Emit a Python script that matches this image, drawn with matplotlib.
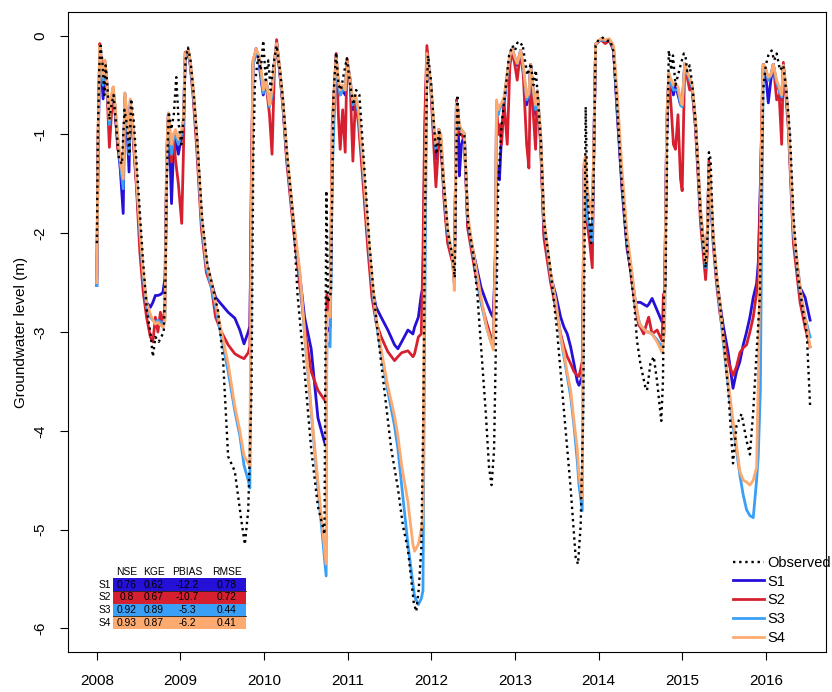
import matplotlib
matplotlib.use("Agg")
import matplotlib.pyplot as plt
from matplotlib.patches import Rectangle
from matplotlib.lines import Line2D

plt.rcParams['font.family'] = ['Liberation Sans', 'DejaVu Sans']

# ---------------- data ----------------
t_sim = [
    2008.000, 2008.015, 2008.035, 2008.055, 2008.075, 2008.095, 2008.115, 2008.150, 2008.175, 2008.195,
    2008.215, 2008.250, 2008.280, 2008.315, 2008.335, 2008.360, 2008.385, 2008.400, 2008.430, 2008.475,
    2008.515, 2008.555, 2008.595, 2008.640, 2008.670, 2008.700, 2008.730, 2008.760, 2008.790, 2008.815,
    2008.835, 2008.855, 2008.875, 2008.893, 2008.915, 2008.940, 2008.975, 2009.015, 2009.035, 2009.056,
    2009.095, 2009.115, 2009.150, 2009.195, 2009.250, 2009.310, 2009.370, 2009.420, 2009.490, 2009.570,
    2009.650, 2009.710, 2009.760, 2009.810, 2009.830, 2009.848, 2009.868, 2009.905, 2009.935, 2009.965,
    2009.990, 2010.025, 2010.065, 2010.095, 2010.125, 2010.150, 2010.185, 2010.225, 2010.270, 2010.350,
    2010.430, 2010.484, 2010.563, 2010.644, 2010.724, 2010.742, 2010.750, 2010.790, 2010.815, 2010.862,
    2010.890, 2010.910, 2010.940, 2010.970, 2010.992, 2011.030, 2011.062, 2011.092, 2011.130, 2011.180,
    2011.240, 2011.290, 2011.340, 2011.400, 2011.480, 2011.560, 2011.600, 2011.645, 2011.720, 2011.780,
    2011.800, 2011.845, 2011.880, 2011.900, 2011.920, 2011.947, 2011.995, 2012.035, 2012.055, 2012.090,
    2012.115, 2012.155, 2012.195, 2012.255, 2012.275, 2012.300, 2012.320, 2012.335, 2012.360, 2012.395,
    2012.435, 2012.475, 2012.515, 2012.595, 2012.660, 2012.713, 2012.740, 2012.765, 2012.780, 2012.800,
    2012.815, 2012.840, 2012.870, 2012.908, 2012.940, 2012.967, 2013.000, 2013.027, 2013.068, 2013.100,
    2013.140, 2013.167, 2013.188, 2013.220, 2013.247, 2013.267, 2013.307, 2013.347, 2013.427, 2013.487,
    2013.547, 2013.586, 2013.626, 2013.666, 2013.706, 2013.745, 2013.766, 2013.805, 2013.815, 2013.828,
    2013.845, 2013.865, 2013.895, 2013.925, 2013.945, 2013.965, 2014.025, 2014.080, 2014.130, 2014.180,
    2014.220, 2014.280, 2014.340, 2014.400, 2014.440, 2014.480, 2014.500, 2014.540, 2014.580, 2014.600,
    2014.640, 2014.700, 2014.760, 2014.775, 2014.790, 2014.815, 2014.840, 2014.870, 2014.895, 2014.920,
    2014.950, 2014.980, 2015.000, 2015.030, 2015.060, 2015.090, 2015.120, 2015.160, 2015.220, 2015.280,
    2015.300, 2015.320, 2015.340, 2015.370, 2015.410, 2015.450, 2015.490, 2015.550, 2015.608, 2015.650,
    2015.690, 2015.730, 2015.770, 2015.810, 2015.850, 2015.890, 2015.910, 2015.935, 2015.955, 2015.970,
    2016.000, 2016.030, 2016.060, 2016.090, 2016.130, 2016.160, 2016.190, 2016.210, 2016.240, 2016.270,
    2016.330, 2016.410, 2016.470, 2016.530,
]

s1 = [
    -2.53, -1.20, -0.15, -0.40, -0.64, -0.30, -0.45, -0.90, -0.65, -0.55,
    -0.75, -1.10, -1.35, -1.80, -0.60, -0.90, -1.38, -0.70, -0.95, -1.50,
    -2.05, -2.45, -2.70, -2.75, -2.70, -2.63, -2.63, -2.62, -2.60, -2.45,
    -1.40, -0.82, -1.20, -1.70, -1.20, -1.05, -1.20, -1.00, -0.85, -0.25,
    -0.17, -0.28, -0.55, -1.05, -1.85, -2.30, -2.50, -2.65, -2.72, -2.80,
    -2.86, -2.98, -3.12, -3.00, -2.94, -1.60, -0.30, -0.13, -0.25, -0.45,
    -0.60, -0.46, -0.70, -0.60, -0.25, -0.08, -0.35, -0.70, -1.22, -1.90,
    -2.45, -2.85, -3.17, -3.87, -4.12, -4.15, -3.00, -2.95, -1.20, -0.20,
    -0.55, -0.60, -0.55, -0.60, -0.25, -0.45, -0.75, -0.62, -0.80, -1.35,
    -2.05, -2.55, -2.75, -2.85, -2.98, -3.13, -3.17, -3.10, -2.98, -3.02,
    -2.95, -2.85, -2.62, -2.55, -1.20, -0.20, -0.52, -1.06, -1.25, -0.95,
    -1.06, -1.65, -2.05, -2.24, -2.45, -0.70, -0.80, -1.42, -1.10, -1.00,
    -1.92, -2.08, -2.24, -2.55, -2.70, -2.81, -2.85, -2.30, -1.30, -1.40,
    -1.46, -1.00, -0.68, -0.40, -0.20, -0.13, -0.25, -0.30, -0.15, -0.35,
    -0.70, -0.60, -0.29, -0.60, -0.80, -0.56, -1.06, -2.00, -2.43, -2.62,
    -2.85, -2.95, -3.02, -3.15, -3.32, -3.50, -3.54, -3.45, -2.50, -1.35,
    -1.50, -1.88, -1.95, -1.95, -1.00, -0.09, -0.04, -0.06, -0.04, -0.15,
    -0.75, -1.55, -2.15, -2.45, -2.70, -2.70, -2.70, -2.72, -2.74, -2.72,
    -2.66, -2.78, -2.90, -2.85, -2.60, -1.00, -0.40, -0.50, -0.60, -0.50,
    -0.60, -0.70, -0.70, -0.30, -0.40, -0.45, -0.55, -0.90, -1.80, -2.31,
    -2.00, -1.30, -1.60, -2.03, -2.43, -2.70, -2.93, -3.21, -3.57, -3.40,
    -3.30, -3.13, -3.00, -2.85, -2.65, -2.51, -2.30, -1.50, -0.80, -0.29,
    -0.40, -0.68, -0.45, -0.29, -0.50, -0.55, -0.65, -0.30, -0.55, -0.87,
    -2.00, -2.55, -2.65, -2.88,
]

s2 = [
    -2.45, -1.00, -0.08, -0.25, -0.45, -0.25, -0.42, -1.13, -0.80, -0.52,
    -0.70, -1.15, -1.20, -1.45, -0.60, -0.90, -1.10, -0.66, -1.00, -1.55,
    -2.20, -2.60, -2.85, -3.05, -3.10, -2.85, -3.00, -2.80, -2.95, -2.70,
    -1.20, -0.80, -1.05, -1.28, -1.00, -1.25, -1.50, -1.90, -1.20, -0.17,
    -0.15, -0.28, -0.60, -1.15, -1.95, -2.40, -2.55, -2.85, -3.00, -3.13,
    -3.22, -3.25, -3.27, -3.21, -3.15, -1.40, -0.25, -0.15, -0.20, -0.40,
    -0.55, -0.50, -0.80, -1.20, -0.30, -0.04, -0.35, -0.72, -1.27, -1.95,
    -2.55, -2.95, -3.40, -3.59, -3.69, -3.72, -2.62, -2.80, -0.90, -0.18,
    -0.83, -1.15, -0.75, -1.18, -0.23, -0.50, -1.27, -0.65, -0.90, -1.45,
    -2.15, -2.65, -2.90, -3.05, -3.20, -3.29, -3.25, -3.21, -3.19, -3.25,
    -3.22, -3.05, -3.02, -2.20, -0.90, -0.10, -0.55, -1.20, -1.53, -1.05,
    -1.10, -1.70, -2.10, -2.30, -2.50, -0.65, -0.80, -1.00, -1.00, -1.05,
    -1.95, -2.15, -2.35, -2.70, -2.90, -3.05, -3.10, -2.20, -0.70, -1.00,
    -0.90, -1.10, -0.68, -1.10, -0.30, -0.15, -0.30, -0.45, -0.15, -0.40,
    -1.10, -1.34, -0.30, -0.80, -1.15, -0.56, -1.10, -2.05, -2.50, -2.75,
    -3.02, -3.15, -3.25, -3.32, -3.40, -3.44, -3.45, -3.30, -2.80, -1.30,
    -1.40, -1.90, -2.10, -2.35, -1.10, -0.09, -0.04, -0.08, -0.05, -0.15,
    -0.70, -1.50, -2.10, -2.50, -2.75, -2.93, -2.95, -3.02, -2.90, -2.85,
    -3.02, -2.98, -3.09, -2.62, -2.60, -0.90, -0.40, -0.75, -1.10, -1.15,
    -0.80, -1.45, -1.57, -0.30, -0.42, -0.55, -0.55, -0.95, -1.90, -2.47,
    -2.20, -1.27, -1.60, -2.10, -2.50, -2.80, -3.02, -3.30, -3.44, -3.35,
    -3.21, -3.16, -3.13, -3.00, -2.85, -2.60, -2.43, -1.60, -0.70, -0.29,
    -0.35, -0.45, -0.40, -0.29, -0.65, -0.60, -1.10, -0.27, -0.60, -0.95,
    -2.10, -2.70, -2.95, -3.15,
]

s3 = [
    -2.53, -1.10, -0.12, -0.35, -0.50, -0.28, -0.42, -0.90, -0.62, -0.55,
    -0.70, -1.05, -1.30, -1.55, -0.58, -0.85, -1.20, -0.66, -0.92, -1.45,
    -2.00, -2.45, -2.75, -2.85, -2.88, -2.90, -2.88, -2.90, -2.92, -2.85,
    -1.30, -0.80, -1.00, -1.20, -1.05, -1.00, -1.10, -1.00, -0.90, -0.20,
    -0.17, -0.27, -0.55, -1.03, -1.87, -2.35, -2.55, -2.75, -3.05, -3.40,
    -3.80, -4.05, -4.35, -4.50, -4.58, -2.20, -0.30, -0.15, -0.22, -0.40,
    -0.58, -0.45, -0.72, -0.60, -0.25, -0.08, -0.33, -0.68, -1.20, -1.88,
    -2.45, -3.02, -3.80, -4.58, -5.30, -5.47, -3.10, -3.15, -1.40, -0.22,
    -0.50, -0.60, -0.55, -0.55, -0.27, -0.45, -0.70, -0.62, -0.80, -1.30,
    -2.00, -2.50, -2.90, -3.21, -3.60, -3.95, -4.18, -4.55, -5.15, -5.55,
    -5.68, -5.76, -5.70, -5.62, -3.00, -0.20, -0.50, -1.00, -1.15, -0.95,
    -1.05, -1.60, -2.00, -2.25, -2.50, -0.68, -0.75, -0.95, -0.95, -0.99,
    -1.85, -2.08, -2.28, -2.70, -2.95, -3.10, -3.15, -2.40, -0.68, -0.80,
    -0.75, -0.70, -0.65, -0.40, -0.20, -0.13, -0.22, -0.28, -0.15, -0.32,
    -0.65, -0.60, -0.29, -0.55, -0.75, -0.56, -1.00, -1.90, -2.43, -2.70,
    -3.05, -3.25, -3.45, -3.65, -3.95, -4.30, -4.55, -4.81, -3.20, -1.40,
    -1.45, -1.85, -1.95, -2.08, -1.10, -0.09, -0.04, -0.05, -0.04, -0.13,
    -0.68, -1.46, -2.08, -2.43, -2.70, -2.88, -2.93, -2.97, -3.00, -3.00,
    -3.02, -3.08, -3.15, -3.10, -2.95, -0.90, -0.38, -0.50, -0.55, -0.55,
    -0.55, -0.70, -0.72, -0.28, -0.38, -0.45, -0.52, -0.87, -1.80, -2.35,
    -2.10, -1.40, -1.65, -2.05, -2.45, -2.75, -3.10, -3.55, -3.95, -4.20,
    -4.45, -4.65, -4.80, -4.86, -4.88, -4.50, -4.26, -3.59, -1.50, -0.35,
    -0.35, -0.45, -0.40, -0.29, -0.48, -0.55, -0.62, -0.30, -0.52, -0.87,
    -2.00, -2.60, -2.85, -3.05,
]

s4 = [
    -2.50, -1.00, -0.10, -0.30, -0.42, -0.25, -0.40, -0.85, -0.60, -0.52,
    -0.68, -1.00, -1.25, -1.45, -0.58, -0.80, -1.05, -0.64, -0.90, -1.45,
    -1.95, -2.40, -2.70, -2.82, -2.88, -2.92, -2.90, -2.93, -2.95, -2.88,
    -1.20, -0.78, -0.95, -1.10, -1.00, -0.95, -1.05, -0.95, -0.85, -0.18,
    -0.15, -0.25, -0.50, -1.00, -1.80, -2.30, -2.50, -2.70, -3.00, -3.32,
    -3.75, -4.00, -4.25, -4.33, -4.35, -1.70, -0.25, -0.13, -0.20, -0.35,
    -0.55, -0.45, -0.70, -0.55, -0.25, -0.08, -0.30, -0.65, -1.15, -1.85,
    -2.40, -3.00, -3.78, -4.52, -5.20, -5.35, -2.80, -2.85, -1.00, -0.20,
    -0.45, -0.55, -0.50, -0.55, -0.25, -0.45, -0.65, -0.60, -0.75, -1.25,
    -1.95, -2.45, -2.85, -3.18, -3.55, -3.85, -4.05, -4.35, -4.72, -5.15,
    -5.22, -5.15, -5.00, -4.88, -2.00, -0.18, -0.50, -0.95, -1.10, -0.95,
    -1.00, -1.55, -1.95, -2.25, -2.58, -0.68, -0.75, -0.90, -0.95, -0.99,
    -1.80, -2.05, -2.25, -2.65, -2.95, -3.10, -3.18, -2.30, -0.65, -0.75,
    -0.72, -0.68, -0.62, -0.38, -0.20, -0.13, -0.22, -0.28, -0.15, -0.30,
    -0.62, -0.58, -0.29, -0.55, -0.70, -0.56, -0.98, -1.85, -2.40, -2.68,
    -3.05, -3.21, -3.42, -3.59, -3.90, -4.18, -4.45, -4.69, -2.80, -1.27,
    -1.22, -1.55, -1.70, -1.84, -1.00, -0.09, -0.03, -0.04, -0.03, -0.10,
    -0.55, -1.35, -2.00, -2.40, -2.68, -2.88, -2.93, -2.97, -3.00, -3.00,
    -3.02, -3.10, -3.21, -3.10, -2.90, -0.85, -0.38, -0.45, -0.50, -0.48,
    -0.52, -0.65, -0.70, -0.28, -0.37, -0.42, -0.50, -0.85, -1.75, -2.30,
    -2.00, -1.30, -1.55, -2.00, -2.40, -2.70, -3.05, -3.50, -3.90, -4.15,
    -4.41, -4.50, -4.52, -4.55, -4.50, -4.37, -3.50, -2.03, -0.60, -0.29,
    -0.33, -0.42, -0.40, -0.29, -0.45, -0.52, -0.60, -0.30, -0.50, -0.85,
    -1.95, -2.55, -2.85, -3.15,
]

obs_t = [
    2008.000, 2008.012, 2008.030, 2008.045, 2008.065, 2008.090, 2008.105, 2008.125, 2008.150, 2008.175,
    2008.200, 2008.230, 2008.265, 2008.300, 2008.330, 2008.360, 2008.390, 2008.410, 2008.440, 2008.500,
    2008.550, 2008.600, 2008.640, 2008.670, 2008.700, 2008.740, 2008.770, 2008.800, 2008.820, 2008.835,
    2008.860, 2008.890, 2008.920, 2008.950, 2008.980, 2009.010, 2009.040, 2009.060, 2009.090, 2009.120,
    2009.160, 2009.200, 2009.260, 2009.320, 2009.400, 2009.450, 2009.510, 2009.570, 2009.650, 2009.730,
    2009.770, 2009.810, 2009.850, 2009.870, 2009.890, 2009.930, 2009.960, 2009.990, 2010.020, 2010.050,
    2010.080, 2010.110, 2010.150, 2010.190, 2010.230, 2010.270, 2010.350, 2010.400, 2010.484, 2010.563,
    2010.644, 2010.700, 2010.722, 2010.745, 2010.765, 2010.800, 2010.830, 2010.862, 2010.890, 2010.920,
    2010.950, 2010.990, 2011.030, 2011.070, 2011.100, 2011.140, 2011.200, 2011.260, 2011.310, 2011.360,
    2011.440, 2011.520, 2011.600, 2011.660, 2011.720, 2011.790, 2011.820, 2011.850, 2011.880, 2011.905,
    2011.925, 2011.945, 2011.960, 2011.995, 2012.035, 2012.060, 2012.095, 2012.150, 2012.200, 2012.255,
    2012.280, 2012.310, 2012.340, 2012.395, 2012.440, 2012.500, 2012.550, 2012.590, 2012.650, 2012.690,
    2012.720, 2012.750, 2012.775, 2012.800, 2012.840, 2012.890, 2012.930, 2012.970, 2013.000, 2013.030,
    2013.060, 2013.090, 2013.120, 2013.150, 2013.190, 2013.220, 2013.250, 2013.280, 2013.310, 2013.350,
    2013.430, 2013.507, 2013.586, 2013.666, 2013.726, 2013.754, 2013.786, 2013.817, 2013.846, 2013.865,
    2013.910, 2013.940, 2013.965, 2014.000, 2014.050, 2014.100, 2014.140, 2014.175, 2014.215, 2014.270,
    2014.330, 2014.390, 2014.430, 2014.460, 2014.500, 2014.560, 2014.580, 2014.620, 2014.660, 2014.700,
    2014.750, 2014.770, 2014.782, 2014.800, 2014.820, 2014.840, 2014.870, 2014.890, 2014.920, 2014.950,
    2014.980, 2015.020, 2015.040, 2015.060, 2015.090, 2015.120, 2015.160, 2015.220, 2015.280, 2015.305,
    2015.320, 2015.340, 2015.370, 2015.410, 2015.450, 2015.490, 2015.550, 2015.608, 2015.650, 2015.710,
    2015.770, 2015.810, 2015.850, 2015.890, 2015.930, 2015.950, 2015.970, 2016.000, 2016.030, 2016.070,
    2016.100, 2016.130, 2016.170, 2016.210, 2016.250, 2016.290, 2016.330, 2016.380, 2016.430, 2016.490,
    2016.530,
]

obs_v = [
    -2.10, -1.00, -0.30, -0.10, -0.25, -0.60, -0.30, -0.50, -0.85, -0.70,
    -0.60, -0.90, -1.25, -1.30, -0.75, -0.90, -1.20, -0.64, -0.85, -1.60,
    -2.25, -2.80, -3.00, -3.25, -3.05, -3.10, -3.05, -3.00, -2.50, -1.50,
    -0.77, -0.95, -0.80, -0.42, -0.90, -1.10, -0.80, -0.25, -0.12, -0.25,
    -0.60, -1.05, -1.85, -2.30, -2.60, -2.79, -3.29, -4.26, -4.41, -4.92,
    -5.15, -4.81, -3.60, -1.27, -0.49, -0.20, -0.35, -0.05, -0.45, -0.25,
    -0.55, -0.30, -0.10, -0.35, -0.68, -1.15, -1.85, -2.62, -3.40, -4.18,
    -4.77, -4.96, -5.05, -1.57, -2.70, -2.60, -0.60, -0.17, -0.50, -0.55,
    -0.40, -0.23, -0.50, -0.70, -0.55, -0.60, -1.35, -2.10, -2.60, -3.02,
    -3.60, -4.18, -4.58, -4.96, -5.20, -5.74, -5.83, -5.60, -5.19, -3.80,
    -1.84, -0.60, -0.20, -0.45, -0.95, -1.20, -0.95, -1.50, -2.00, -2.25,
    -2.45, -0.60, -1.00, -1.00, -1.90, -2.20, -2.62, -3.09, -3.80, -4.37,
    -4.55, -4.20, -3.00, -1.50, -0.90, -0.52, -0.20, -0.10, -0.15, -0.07,
    -0.10, -0.08, -0.25, -0.40, -0.28, -0.50, -0.35, -0.70, -1.06, -1.90,
    -2.40, -3.02, -3.80, -4.58, -5.28, -5.35, -4.96, -3.80, -0.72, -1.60,
    -2.10, -1.50, -0.10, -0.04, -0.02, -0.05, -0.05, -0.15, -0.60, -1.40,
    -2.05, -2.45, -2.75, -3.09, -3.32, -3.56, -3.59, -3.32, -3.25, -3.50,
    -3.90, -3.50, -2.62, -2.55, -1.20, -0.15, -0.35, -0.20, -0.50, -0.40,
    -0.30, -0.18, -0.21, -0.36, -0.30, -0.49, -0.87, -1.80, -2.35, -2.00,
    -1.18, -1.25, -2.03, -2.43, -2.70, -3.02, -3.59, -4.33, -3.95, -3.83,
    -4.10, -4.24, -3.80, -3.21, -2.62, -1.46, -0.53, -0.30, -0.20, -0.15,
    -0.25, -0.18, -0.35, -0.30, -0.60, -1.00, -1.80, -2.40, -2.70, -3.02,
    -3.75,
]

series_names = ["S1", "S2", "S3", "S4"]
series_colors = ["#2510D8", "#D7202F", "#3AA0F7", "#FDAA70"]
metric_names = ["NSE", "KGE", "PBIAS", "RMSE"]
nse = ["0.76", "0.8", "0.92", "0.93"]
kge = ["0.62", "0.67", "0.89", "0.87"]
pbias = ["-12.2", "-10.7", "-5.3", "-6.2"]
rmse = ["0.78", "0.72", "0.44", "0.41"]
year_ticks = list(range(2008, 2017))
level_ticks = [0, -1, -2, -3, -4, -5, -6]

# ---------------- figure ----------------
W, H = 832, 692
fig = plt.figure(figsize=(W / 100, H / 100), dpi=100)
AX_L, AX_R, AX_T, AX_B = 68, 826, 12, 652
ax = fig.add_axes([AX_L / W, (H - AX_B) / H, (AX_R - AX_L) / W, (AX_B - AX_T) / H])

OBS_STYLE = dict(color='black', lw=1.7, linestyle=(0, (1.0, 1.6)))

sims = [s1, s2, s3, s4]
for vals, name, col in zip(sims, series_names, series_colors):
    ax.plot(t_sim, vals, color=col, lw=2.0, label=name, solid_joinstyle='round')
ax.plot(obs_t, obs_v, label='Observed', **OBS_STYLE)

ax.set_xlim(2007.655, 2016.72)
ax.set_ylim(-6.24, 0.24)
ax.set_xticks(year_ticks)
ax.set_xticklabels([str(y) for y in year_ticks])
ax.set_yticks(level_ticks)
ax.set_yticklabels([str(v) for v in level_ticks], rotation=90, va='center')
ax.tick_params(direction='out', length=6, width=0.8, labelsize=11, colors='black')
ax.tick_params(axis='x', pad=10)
ax.tick_params(axis='y', pad=9)
for sp in ax.spines.values():
    sp.set_linewidth(0.8)
ax.set_ylabel("Groundwater level (m)", fontsize=11, labelpad=4)

# legend
handles = [Line2D([], [], **OBS_STYLE)]
handles += [Line2D([], [], color=c, lw=2.0) for c in series_colors]
labels = ["Observed"] + series_names
ax.legend(handles, labels, loc='lower right', bbox_to_anchor=(831 / W, (H - 645) / H),
          bbox_transform=fig.transFigure, frameon=False, fontsize=10.5,
          handlelength=2.1, handletextpad=0.25, labelspacing=0.33, borderaxespad=0, borderpad=0)

# metrics table (drawn in figure pixel coordinates)
def fx(px):
    return px / W

def fy(py):
    return (H - py) / H

col_x = [127, 154, 187, 227]
row_top = [578, 591, 604, 616]
row_h = [13, 13, 12, 13]
box_l, box_r = 113, 246
for j, m in enumerate(metric_names):
    fig.text(fx(col_x[j]), fy(572), m, fontsize=7.4, ha='center', va='center')
for i, (name, col) in enumerate(zip(series_names, series_colors)):
    y0 = row_top[i]
    fig.patches.append(Rectangle((fx(box_l), fy(y0 + row_h[i])), fx(box_r) - fx(box_l),
                                 fy(y0) - fy(y0 + row_h[i]), transform=fig.transFigure,
                                 facecolor=col, edgecolor='none', zorder=5))
    yc = y0 + row_h[i] / 2
    fig.text(fx(111), fy(yc), name, fontsize=7.4, ha='right', va='center', zorder=6)
    for j, vals in enumerate([nse, kge, pbias, rmse]):
        fig.text(fx(col_x[j]), fy(yc), vals[i], fontsize=7.4, ha='center', va='center', zorder=6)
for yb in [591, 616]:
    fig.lines.append(Line2D([fx(box_l), fx(box_r)], [fy(yb), fy(yb)], transform=fig.transFigure,
                            color='#222222', lw=0.6, zorder=7))

fig.savefig("out.png", dpi=100)
